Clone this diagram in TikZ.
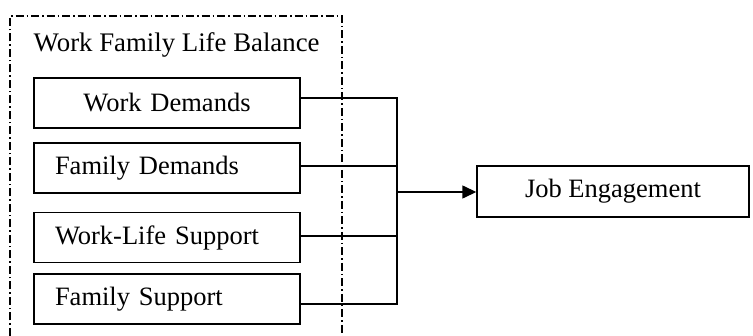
\documentclass[tikz,border=0pt]{standalone}
\usepackage{fontspec}
\setmainfont{Liberation Serif}
\usetikzlibrary{arrows.meta}

\begin{document}
\begin{tikzpicture}[x=1pt, y=-1pt, line width=1.4pt, >={Triangle[length=14pt,width=13pt]},
    factor/.style={draw, inner xsep=21pt, inner ysep=0pt, minimum height=50pt, text width=224pt, align=left, font=\fontsize{26.5}{30}\selectfont},
    outcome/.style={draw, inner sep=0pt, minimum width=272pt, minimum height=51pt, font=\fontsize{26.5}{30}\selectfont},
    group/.style={line width=1.2pt, dash pattern=on 8pt off 3pt on 1.5pt off 3pt}]

  \useasboundingbox (0,0) rectangle (753,336);

  % dash-dot frame round the factors
  \draw[group] (10,336) -- (10,16) -- (342,16) -- (342,336);
  \node[anchor=base west, inner sep=0pt, font=\fontsize{26.8}{30}\selectfont] (title) at (33,52) {Work Family Life Balance};

  \node[factor, align=center] (wd) at (167,103) {Work Demands};
  \node[factor] (fd) at (167,168) {Family Demands};
  \node[factor] (wls) at (167,237.5) {Work-Life Support};
  \node[factor] (fs) at (167,299) {Family Support};

  \node[outcome] (je) at (613,191.5) {Job Engagement};

  \coordinate (hub) at (397,192);

  \draw ([yshift=5pt]wd.east) -| (hub);
  \draw ([yshift=2pt]fd.east) -| (hub);
  \draw ([yshift=1.5pt]wls.east) -| (hub);
  \draw ([yshift=-5pt]fs.east) -| (hub);
  \draw[->] (hub) -- (hub -| je.west);
\end{tikzpicture}
\end{document}
